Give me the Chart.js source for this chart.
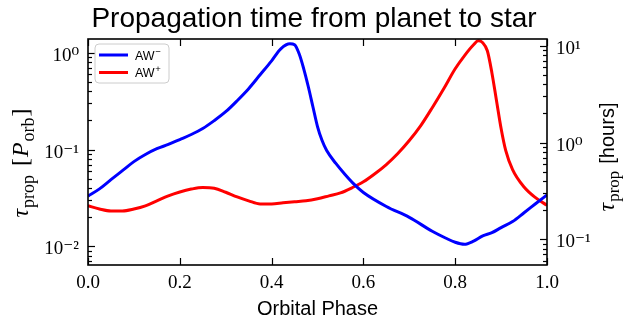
<!DOCTYPE html>
<html><head><meta charset="utf-8">
<script src="https://cdn.jsdelivr.net/npm/chart.js@4/dist/chart.umd.min.js"></script>
<style>html,body{margin:0;padding:0;background:#fff}#wrap{width:624px;height:320px}</style>
</head><body><div id="wrap"><canvas id="c" width="624" height="320"></canvas></div>
<script>
// ---- data ----
const seriesLabels = ['AW\u2212', 'AW+'];
const blueX = [0.00,0.025,0.05,0.075,0.10,0.125,0.15,0.175,0.20,0.225,0.25,0.275,0.30,0.325,0.35,0.375,0.40,0.42,0.44,0.45,0.46,0.47,0.48,0.49,0.50,0.51,0.52,0.54,0.56,0.58,0.60,0.65,0.70,0.75,0.78,0.80,0.82,0.84,0.86,0.88,0.90,0.925,0.95,0.975,1.00];
const blueY = [0.0330,0.0392,0.0488,0.0605,0.0750,0.0888,0.102,0.113,0.127,0.143,0.165,0.199,0.246,0.320,0.426,0.593,0.827,1.10,1.24,1.21,0.977,0.684,0.446,0.277,0.173,0.124,0.0977,0.0718,0.0552,0.0436,0.0360,0.0258,0.0199,0.0143,0.0121,0.0110,0.0105,0.0113,0.0128,0.0138,0.0156,0.0180,0.0222,0.0275,0.0340];
const redX = [0.00,0.025,0.05,0.075,0.10,0.125,0.15,0.175,0.20,0.225,0.25,0.275,0.30,0.325,0.35,0.375,0.40,0.425,0.45,0.475,0.50,0.525,0.55,0.575,0.60,0.625,0.65,0.675,0.70,0.725,0.75,0.775,0.80,0.82,0.84,0.85,0.86,0.87,0.88,0.89,0.90,0.91,0.925,0.95,0.975,1.00];
const redY = [0.0262,0.0243,0.0232,0.0232,0.0243,0.0262,0.0295,0.0332,0.0364,0.0390,0.0405,0.0398,0.0362,0.0324,0.0295,0.0274,0.0274,0.0281,0.0288,0.0295,0.0310,0.0332,0.0356,0.0402,0.0464,0.0562,0.070,0.091,0.124,0.177,0.271,0.426,0.684,0.931,1.21,1.33,1.27,1.05,0.62,0.32,0.165,0.098,0.0620,0.0410,0.0318,0.0265];
const xTicks = [0.0,0.2,0.4,0.6,0.8,1.0];
const leftMajor = [0.01,0.1,1];
const rightMajor = [0.1,1,10];
const leftRange = [0.0064, 1.39];
const orbitHours = 8.47;   // conversion P_orb -> hours for the right axis

const supMap = {'-':'\u207B','0':'\u2070','1':'\u00B9','2':'\u00B2'};
function powLabel(v){ const e = Math.round(Math.log10(v)); return '10' + String(e).split('').map(c=>supMap[c]).join(''); }
function logTicks(min,max,majors){
  const out=[]; const e0=Math.floor(Math.log10(min)), e1=Math.ceil(Math.log10(max));
  for(let e=e0;e<=e1;e++) for(let m=1;m<10;m++){ const v=m*Math.pow(10,e); if(v>=min*0.999 && v<=max*1.001) out.push({value:v, major:m===1}); }
  return out;
}
const serif = "'Liberation Serif', 'DejaVu Serif', serif";
const sans = "'Liberation Sans', Arial, sans-serif";

const deco = {
  id:'deco',
  afterDraw(chart){
    const ctx=chart.ctx, a=chart.chartArea;
    ctx.save();
    // inward ticks
    ctx.strokeStyle='#000'; ctx.lineWidth=1.2;
    const xs=chart.scales.x, yl=chart.scales.y, yr=chart.scales.y2;
    xs.ticks.forEach(t=>{ const p=Math.round(xs.getPixelForValue(t.value))+0.5;
      ctx.beginPath(); ctx.moveTo(p,a.bottom); ctx.lineTo(p,a.bottom-7); ctx.moveTo(p,a.top); ctx.lineTo(p,a.top+7); ctx.stroke(); });
    yl.ticks.forEach(t=>{ const p=Math.round(yl.getPixelForValue(t.value))+0.5; const L=t.major?7:4;
      ctx.beginPath(); ctx.moveTo(a.left,p); ctx.lineTo(a.left+L,p); ctx.stroke(); });
    yr.ticks.forEach(t=>{ const p=Math.round(yr.getPixelForValue(t.value))+0.5; const L=t.major?7:4;
      ctx.beginPath(); ctx.moveTo(a.right,p); ctx.lineTo(a.right-L,p); ctx.stroke(); });
    // frame
    ctx.lineWidth=1.6; ctx.strokeRect(a.left,a.top,a.right-a.left,a.bottom-a.top);
    // title
    ctx.fillStyle='#000'; ctx.textAlign='center'; ctx.textBaseline='alphabetic';
    ctx.font='28px '+sans; ctx.fillText('Propagation time from planet to star', 314, 27);
    // x title
    ctx.font='20px '+sans; ctx.fillText('Orbital Phase', (a.left+a.right)/2, 315);
    function drawRot(x,cy,parts){
      ctx.save(); ctx.translate(x,cy); ctx.rotate(-Math.PI/2);
      let w=0; parts.forEach(p=>{ctx.font=p.f; w+=ctx.measureText(p.t).width + (p.gap||0);});
      let cx=-w/2; ctx.textAlign='left';
      parts.forEach(p=>{ctx.font=p.f; ctx.fillText(p.t,cx,p.dy||0); cx+=ctx.measureText(p.t).width+(p.gap||0);});
      ctx.restore();
    }
    // left y title: tau_prop [P_orb]
    drawRot(28,163,[
      {t:'\u03C4',f:'italic 24px '+serif,gap:1},
      {t:'prop',f:'18px '+serif,dy:6,gap:9},
      {t:'[',f:'24px '+serif,gap:1},
      {t:'P',f:'italic 24px '+serif,gap:1},
      {t:'orb',f:'18px '+serif,dy:6,gap:1},
      {t:']',f:'24px '+serif}
    ]);
    // right y title: tau_prop [hours]
    drawRot(614,157,[
      {t:'\u03C4',f:'italic 24px '+serif,gap:1},
      {t:'prop',f:'17px '+serif,dy:5,gap:7},
      {t:'[hours]',f:'20px '+sans}
    ]);
    // legend
    const lx=95, ly=44, lw=74, lh=39;
    ctx.beginPath(); ctx.roundRect(lx,ly,lw,lh,4);
    ctx.fillStyle='rgba(255,255,255,0.8)'; ctx.fill();
    ctx.strokeStyle='#cccccc'; ctx.lineWidth=1; ctx.stroke();
    chart.data.datasets.forEach((ds,i)=>{
      const yy=ly+11+i*17.5;
      ctx.strokeStyle=ds.borderColor; ctx.lineWidth=3;
      ctx.beginPath(); ctx.moveTo(lx+4,yy); ctx.lineTo(lx+33,yy); ctx.stroke();
      ctx.fillStyle='#000'; ctx.textAlign='left'; ctx.font='12.5px '+sans;
      const base=ds.label.slice(0,2), sup=ds.label.slice(2);
      ctx.fillText(base,lx+40,yy+4.5);
      const bw=ctx.measureText(base).width;
      ctx.font='9.5px '+sans; ctx.fillText(sup,lx+40+bw+0.5,yy-0.5);
    });
    ctx.restore();
  }
};

new Chart(document.getElementById('c'),{
  type:'line',
  data:{datasets:[
    {label:seriesLabels[0], data:blueX.map((x,i)=>({x,y:blueY[i]})), borderColor:'#0000ff', borderWidth:3, pointRadius:0, cubicInterpolationMode:'monotone', yAxisID:'y'},
    {label:seriesLabels[1], data:redX.map((x,i)=>({x,y:redY[i]})), borderColor:'#ff0000', borderWidth:3, pointRadius:0, cubicInterpolationMode:'monotone', yAxisID:'y'}
  ]},
  options:{
    responsive:false, animation:false, devicePixelRatio:1,
    layout:{padding:{top:39,left:0,right:0,bottom:0}},
    plugins:{legend:{display:false}, tooltip:{enabled:false}, title:{display:false}},
    scales:{
      x:{type:'linear', min:0, max:1, grid:{display:false,drawTicks:false}, border:{display:false},
        afterBuildTicks:s=>{s.ticks=xTicks.map(v=>({value:v}));},
        afterFit:s=>{s.height=55;},
        ticks:{padding:7, autoSkip:false, maxRotation:0, color:'#000', font:{family:serif,size:19}, callback:v=>v.toFixed(1)}},
      y:{type:'logarithmic', position:'left', min:leftRange[0], max:leftRange[1], grid:{display:false,drawTicks:false}, border:{display:false},
        afterBuildTicks:s=>{s.ticks=logTicks(leftRange[0],leftRange[1],leftMajor);},
        afterFit:s=>{s.width=88;},
        ticks:{padding:9, autoSkip:false, labelOffset:3, color:'#000', font:{family:serif,size:19}, callback:v=>leftMajor.some(m=>Math.abs(m-v)/m<1e-6)?powLabel(v):''}},
      y2:{type:'logarithmic', position:'right', min:leftRange[0]*orbitHours, max:leftRange[1]*orbitHours, grid:{display:false,drawTicks:false}, border:{display:false},
        afterBuildTicks:s=>{s.ticks=logTicks(leftRange[0]*orbitHours,leftRange[1]*orbitHours,rightMajor);},
        afterFit:s=>{s.width=77;},
        ticks:{padding:9, autoSkip:false, labelOffset:3, color:'#000', font:{family:serif,size:19}, callback:v=>rightMajor.some(m=>Math.abs(m-v)/m<1e-6)?powLabel(v):''}}
    }
  },
  plugins:[deco]
});
</script></body></html>
